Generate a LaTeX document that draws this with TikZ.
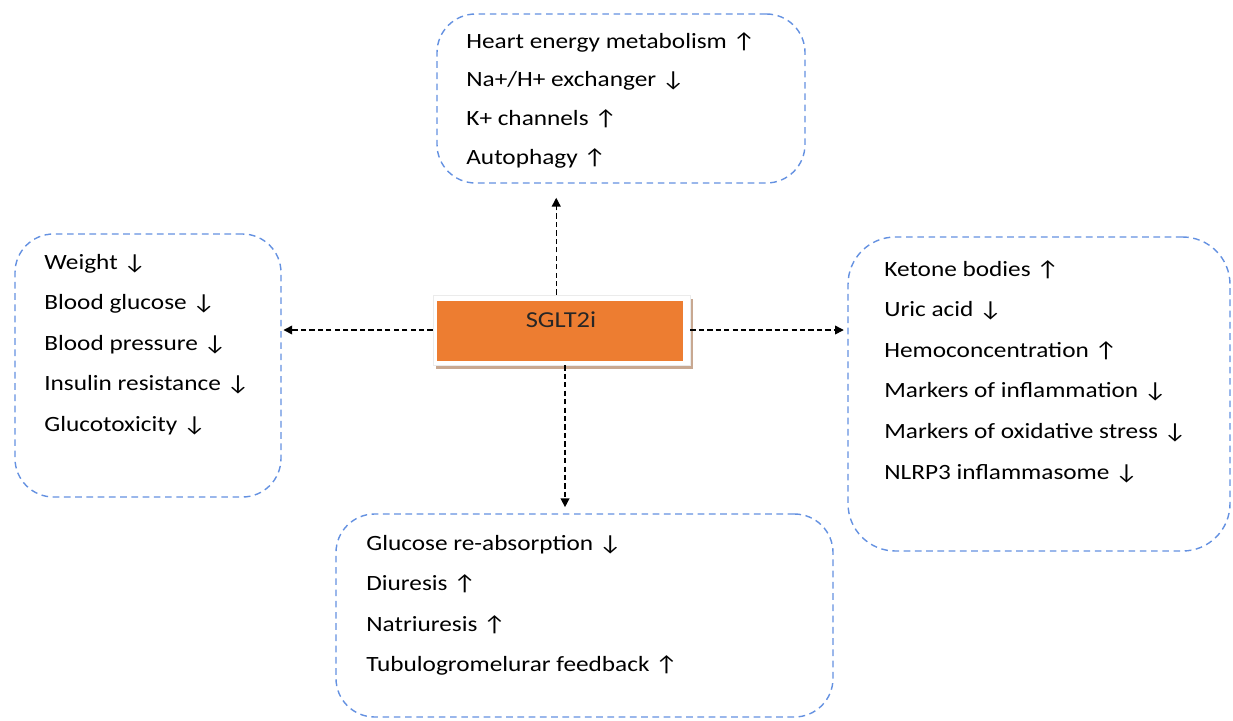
\documentclass[tikz,border=0pt]{standalone}
\usepackage{fontspec}
\setmainfont[FakeStretch=1.16]{Carlito}
\usetikzlibrary{arrows.meta,positioning,fit}
\definecolor{sgorange}{RGB}{237,125,49}
\definecolor{sgshadow}{RGB}{200,168,145}
\definecolor{boxblue}{RGB}{100,145,225}
\tikzset{
  effbox/.style={draw=boxblue, thick, dash pattern=on 3.8pt off 2.6pt, rounded corners=22pt, inner sep=0pt},
  item/.style={anchor=base west, font=\fontsize{12.4}{14}\selectfont, inner sep=0pt},
  conn/.style={-{Triangle[length=5pt,width=5pt]}, thick, dash pattern=on 3pt off 1.8pt},
}
\begin{document}
\begin{tikzpicture}[x=0.02cm, y=-0.02cm]
\useasboundingbox (0,0) rectangle (1233,720);
% effect boxes
\node[effbox, fit={(437,14) (805,183)}] (heart) {};
\node[effbox, fit={(15,234) (281,497)}] (body) {};
\node[effbox, rounded corners=27pt, fit={(848,237) (1230,551)}] (blood) {};
\node[effbox, fit={(336,514) (833,717)}] (kidney) {};
% central drug box
\fill[sgshadow] (436,299) rectangle (693,369);
\node[fill=white, draw=black!8, fit={(433,295) (690,365)}, inner sep=0pt] (frame) {};
\node[fill=sgorange, fit={(437,301) (683,361)}, inner sep=0pt] (sg) {};
\node[anchor=base, font=\fontsize{13}{15}\selectfont, text=black!85] (sglabel) at (561,327) {SGLT2i};
% connectors
\draw[conn, shorten >=8pt] ([xshift=-3pt]frame.north) -- ([xshift=-3pt]frame.north |- heart.south);
\draw[conn, shorten >=3.5pt] ([xshift=2pt]frame.south) -- ([xshift=2pt]frame.south |- kidney.north);
\draw[conn, shorten >=1pt] (frame.west) -- (frame.west -| body.east);
\draw[conn, shorten >=2pt] (frame.east) -- (frame.east -| blood.west);
% box contents
\foreach \t [count=\i] in {Heart energy metabolism ↑, Na+/H+ exchanger ↓, K+ channels ↑, Autophagy ↑}
  \node[item] (heart\i) at (466,{48+38.7*(\i-1)}) {\t};
\foreach \t [count=\i] in {Weight ↓, Blood glucose ↓, Blood pressure ↓, Insulin resistance ↓, Glucotoxicity ↓}
  \node[item] (body\i) at (44,{269+40.6*(\i-1)}) {\t};
\foreach \t [count=\i] in {Ketone bodies ↑, Uric acid ↓, Hemoconcentration ↑, Markers of inflammation ↓, Markers of oxidative stress ↓, NLRP3 inflammasome ↓}
  \node[item] (blood\i) at (884,{276+40.6*(\i-1)}) {\t};
\foreach \t [count=\i] in {Glucose re-absorption ↓, Diuresis ↑, Natriuresis ↑, Tubulogromelurar feedback ↑}
  \node[item] (kidney\i) at (366,{550+40.6*(\i-1)}) {\t};
\end{tikzpicture}
\end{document}
